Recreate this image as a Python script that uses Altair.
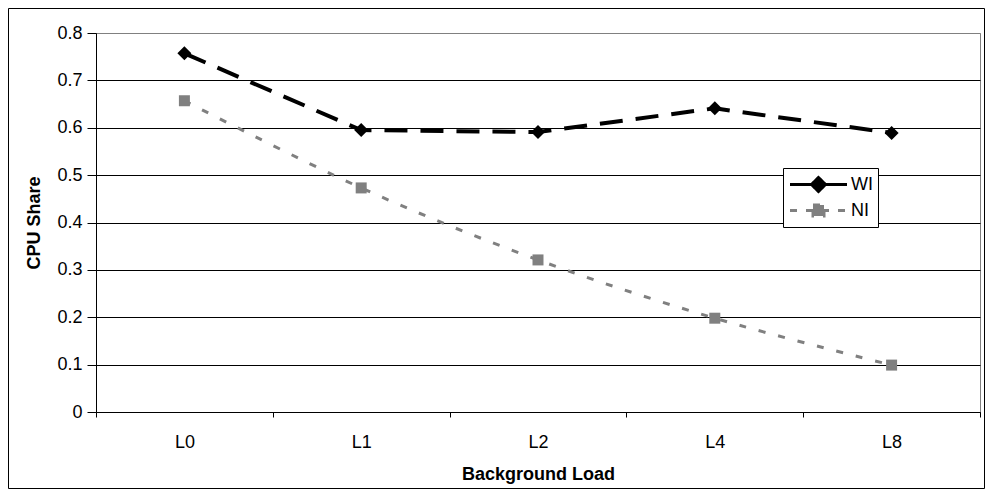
import altair as alt
import pandas as pd

categories = ["L0", "L1", "L2", "L4", "L8"]
wi_values = [0.757, 0.595, 0.591, 0.641, 0.589]
ni_values = [0.657, 0.473, 0.321, 0.198, 0.099]
series_names = ["WI", "NI"]
y_ticks = [0, 0.1, 0.2, 0.3, 0.4, 0.5, 0.6, 0.7, 0.8]

rows = []
for c, v in zip(categories, wi_values):
    rows.append({"load": c, "series": "WI", "share": v})
for c, v in zip(categories, ni_values):
    rows.append({"load": c, "series": "NI", "share": v})
df = pd.DataFrame(rows)

FONT = "Liberation Sans"
W, H = 884, 379
PAD_L, PAD_T, PAD_R, PAD_B = 88, 25, 5, 77

x_enc = alt.X(
    "load:N",
    sort=categories,
    bandPosition=0.5,
    scale=alt.Scale(type="band", paddingInner=0, paddingOuter=0),
    title="Background Load",
    axis=alt.Axis(
        tickBand="extent",
        grid=False,
        domainColor="black",
        tickColor="black",
        tickSize=5,
        labelAngle=0,
        labelFontSize=18,
        labelFont=FONT,
        labelColor="black",
        labelPadding=16,
        titleFont=FONT,
        titleFontSize=18,
        titleFontWeight="bold",
        titleColor="black",
        titlePadding=14,
    ),
)
y_enc = alt.Y(
    "share:Q",
    scale=alt.Scale(domain=[0, 0.8], nice=False),
    title="CPU Share",
    axis=alt.Axis(
        values=y_ticks,
        format=".1~f",
        grid=True,
        gridColor={"condition": {"test": "datum.value >= 0.8", "value": "#808080"}, "value": "black"},
        gridWidth=1,
        domainColor="black",
        tickColor="black",
        tickSize=9,
        labelFontSize=18,
        labelFont=FONT,
        labelColor="black",
        labelPadding=5,
        titleFont=FONT,
        titleFontSize=18,
        titleFontWeight="bold",
        titleColor="black",
        titlePadding=13,
    ),
)

base = alt.Chart(df)

wi_line = base.transform_filter(alt.datum.series == "WI").mark_line(
    color="black", strokeWidth=4, strokeDash=[23, 13]
).encode(x=x_enc, y=y_enc)

ni_line = base.transform_filter(alt.datum.series == "NI").mark_line(
    color="#808080", strokeWidth=3, strokeDash=[7, 13], interpolate="catmull-rom"
).encode(x=x_enc, y=y_enc)

wi_pts = base.transform_filter(alt.datum.series == "WI").mark_point(
    filled=True, opacity=1, color="black", shape="diamond", size=196
).encode(x=x_enc, y=y_enc)

ni_pts = base.transform_filter(alt.datum.series == "NI").mark_point(
    filled=True, opacity=1, color="#808080", shape="square", size=121
).encode(x=x_enc, y=y_enc)

WI_PATH = "M-2.85,0H2.85M0,-0.7L0.7,0L0,0.7L-0.7,0Z"
NI_PATH = "M-2.85,0H2.85M-0.55,-0.55H0.55V0.55H-0.55Z"

legend = alt.Legend(
    title=None,
    orient="none",
    legendX=687,
    legendY=135,
    strokeColor="black",
    fillColor="white",
    padding=5,
    symbolSize=400,
    symbolOffset=19,
    symbolOpacity=1,
    symbolStrokeWidth=3,
    labelOffset=21,
    labelFontSize=18,
    labelFont=FONT,
    labelColor="black",
    rowPadding=1,
)

legend_layer = base.transform_filter("false").mark_point(strokeWidth=3, opacity=1).encode(
    x=x_enc,
    y=y_enc,
    shape=alt.Shape("series:N", scale=alt.Scale(domain=series_names, range=[WI_PATH, NI_PATH]), legend=legend),
    fill=alt.Fill("series:N", scale=alt.Scale(domain=series_names, range=["black", "#808080"]), legend=legend),
    stroke=alt.Stroke("series:N", scale=alt.Scale(domain=series_names, range=["black", "#808080"]), legend=legend),
    strokeDash=alt.StrokeDash("series:N", scale=alt.Scale(domain=series_names, range=[[1, 0], [7, 9]]), legend=legend),
)

border = alt.Chart(alt.Data(values=[{"k": 1}])).mark_rect(
    fill=None, stroke="black", strokeWidth=1
).encode(
    x=alt.value(-PAD_L + 0.5),
    x2=alt.value(W + PAD_R - 0.5),
    y=alt.value(-PAD_T + 0.5),
    y2=alt.value(H + PAD_B - 0.5),
)

chart = alt.layer(border, wi_line, ni_line, wi_pts, ni_pts, legend_layer).properties(
    width=W,
    height=H,
    autosize=alt.AutoSizeParams(type="none"),
    padding={"left": PAD_L, "top": PAD_T, "right": PAD_R, "bottom": PAD_B},
    background="white",
).configure_view(stroke="#808080", strokeWidth=1)

chart.save("out.html", embed_options={"renderer": "svg", "actions": False})
